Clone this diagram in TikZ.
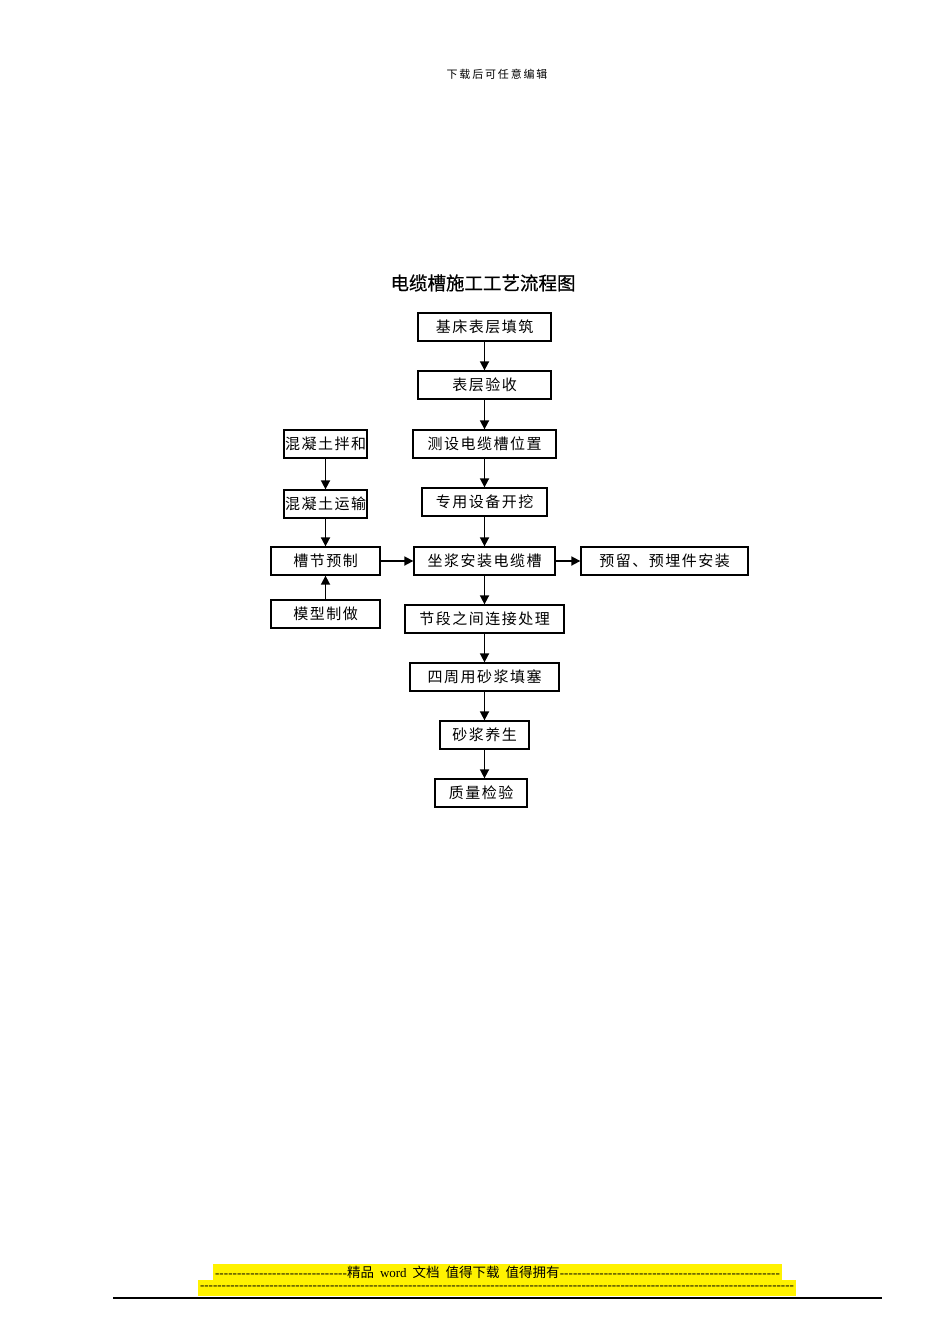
\documentclass[tikz,border=0pt]{standalone}
\usepackage{fontspec}
\setmainfont{Liberation Serif}
\newfontfamily\cjk{Noto Sans CJK SC}
\newfontfamily\cjktitle[FakeBold=0.6]{Noto Sans CJK SC}
\newfontfamily\cjkbox[LetterSpace=10]{Noto Sans CJK SC}
\usetikzlibrary{arrows.meta}
\tikzset{
  box/.style={draw=black, line width=1.3pt, minimum height=28pt, inner sep=0pt,
    font=\cjkbox\fontsize{15}{17}\selectfont, anchor=center},
  arr/.style={line width=1.7pt, -{Triangle[length=9pt,width=9pt]}}
}
\begin{document}
\begin{tikzpicture}[x=1pt,y=-1pt]
\useasboundingbox (0,0) rectangle (950,1344);
% header
\node[font=\cjk\fontsize{11}{12}\selectfont] (hdr) at (497,74) {下\,载\,后\,可\,任\,意\,编\,辑};
% title
\node[font=\cjktitle\fontsize{18.5}{20}\selectfont] (title) at (483,283) {电缆槽施工工艺流程图};
% main column
\node[box, minimum width=133pt] (b1) at (484.5,327) {基床表层填筑};
\node[box, minimum width=133pt] (b2) at (484.5,385) {表层验收};
\node[box, minimum width=143pt] (b3) at (484.5,444) {测设电缆槽位置};
\node[box, minimum width=125pt] (b4) at (484.5,502) {专用设备开挖};
\node[box, minimum width=141pt] (b5) at (484.5,561) {坐浆安装电缆槽};
\node[box, minimum width=159pt] (b6) at (484.5,619) {节段之间连接处理};
\node[box, minimum width=149pt] (b7) at (484.5,677) {四周用砂浆填塞};
\node[box, minimum width=89pt] (b8) at (484.5,735) {砂浆养生};
\node[box, minimum width=92pt] (b9) at (481,793) {质量检验};
% left column
\node[box, minimum width=83pt] (l1) at (325.5,444) {混凝土拌和};
\node[box, minimum width=83pt] (l2) at (325.5,504) {混凝土运输};
\node[box, minimum width=109pt] (l3) at (325.5,561) {槽节预制};
\node[box, minimum width=109pt] (l4) at (325.5,614) {模型制做};
% right
\node[box, minimum width=167pt] (r1) at (664.5,561) {预留、预埋件安装};
% connectors
\draw[arr] (b1) -- (b2);
\draw[arr] (b2) -- (b3);
\draw[arr] (b3) -- (b4);
\draw[arr] (b4) -- (b5);
\draw[arr] (b5) -- (b6);
\draw[arr] (b6) -- (b7);
\draw[arr] (b7) -- (b8);
\draw[arr] (b8.south) -- (b8.south |- b9.north);
\draw[arr] (l1) -- (l2);
\draw[arr] (l2) -- (l3);
\draw[arr] (l4) -- (l3);
\draw[arr] (l3) -- (b5);
\draw[arr] (b5) -- (r1);
% footer
\fill[yellow] (213,1264) rectangle (782,1280);
\fill[yellow] (198,1280) rectangle (796,1296);
\node[inner sep=0pt, anchor=center, font=\fontsize{13}{14}\selectfont] (f1) at (497.5,1272)
  {\makebox[565pt][s]{\hbox to 132pt{\xleaders\hbox{-}\hfill}{\cjk\fontsize{13.5}{14}\selectfont 精品}\hspace{6pt}word\hspace{6pt}{\cjk\fontsize{13.5}{14}\selectfont 文档\hspace{6pt}值得下载\hspace{6pt}值得拥有}\xleaders\hbox{-}\hfill}};
\node[inner sep=0pt, anchor=center, font=\fontsize{13}{14}\selectfont] (f2) at (497,1288)
  {\hbox to 594pt{\xleaders\hbox{-}\hfill}};
\draw[line width=1.2pt] (113,1298) -- (882,1298);
\end{tikzpicture}
\end{document}
